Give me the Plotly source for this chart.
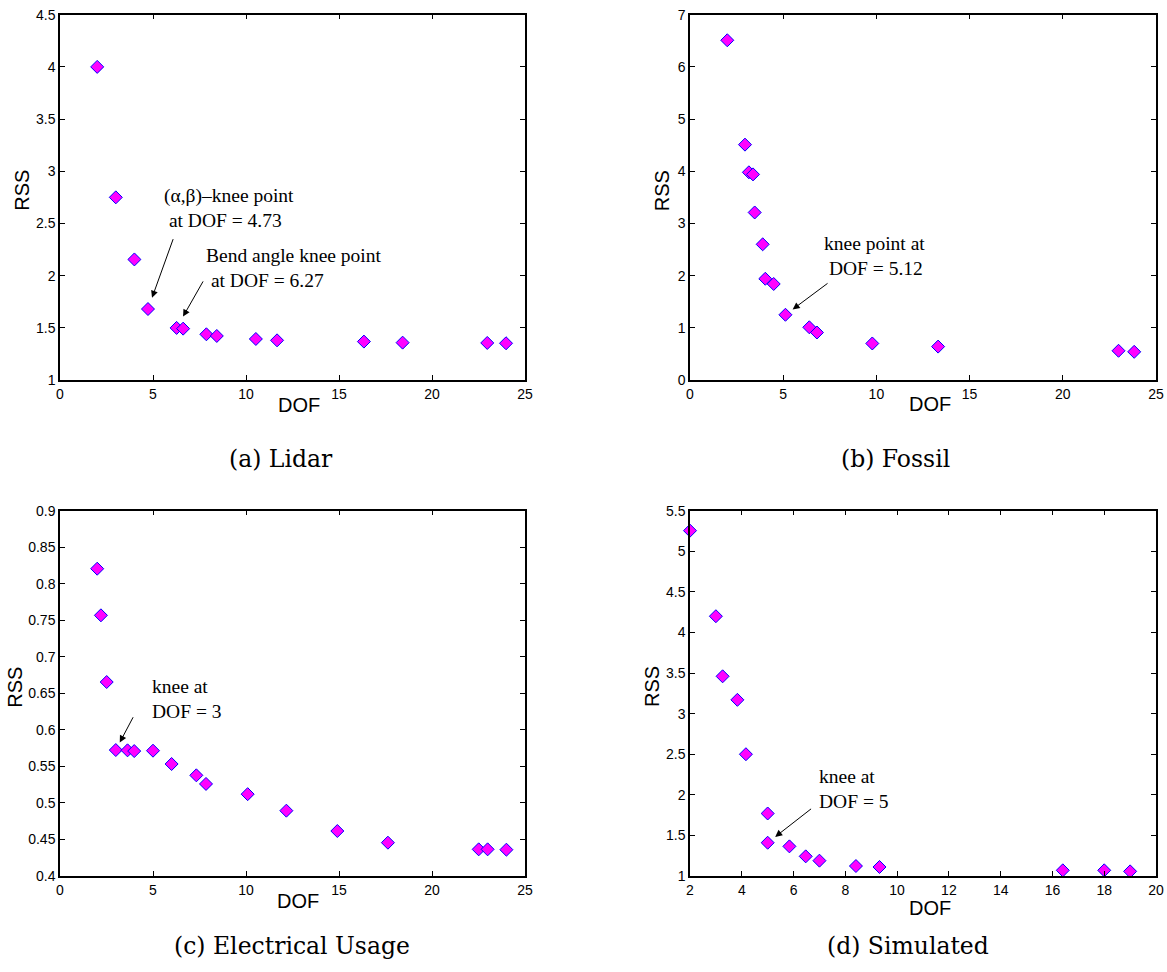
import plotly.graph_objects as go

# ---- data -------------------------------------------------------------
lidar_dof = [2, 3, 4, 4.73, 6.27, 6.62, 7.87, 8.43, 10.53, 11.67, 16.34, 18.42, 22.97, 23.98]
lidar_rss = [4.00, 2.75, 2.155, 1.68, 1.499, 1.492, 1.438, 1.422, 1.393, 1.380, 1.368, 1.358, 1.355, 1.352]

fossil_dof = [2, 2.95, 3.16, 3.38, 3.47, 3.90, 4.04, 4.49, 5.12, 6.40, 6.81, 9.78, 13.31, 22.99, 23.83]
fossil_rss = [6.51, 4.51, 3.98, 3.94, 3.21, 2.60, 1.94, 1.84, 1.25, 1.01, 0.91, 0.70, 0.64, 0.56, 0.54]

elec_dof = [2, 2.20, 2.51, 3, 3.63, 3.99, 5.0, 6.0, 7.33, 7.85, 10.09, 12.17, 14.91, 17.63, 22.51, 22.99, 24.0]
elec_rss = [0.8206, 0.7568, 0.6655, 0.5724, 0.572, 0.571, 0.5715, 0.5533, 0.5378, 0.526,
            0.512, 0.4894, 0.4616, 0.4456, 0.4365, 0.4365, 0.436]

sim_dof = [2, 3, 3.26, 3.83, 4.16, 5, 5, 5.84, 6.47, 7.0, 8.41, 9.32, 16.40, 18.0, 19.0]
sim_rss = [5.254, 4.20, 3.46, 3.17, 2.50, 1.77, 1.41, 1.365, 1.242, 1.189, 1.123, 1.111, 1.07, 1.07, 1.057]

# axis ticks
lidar_x_ticks = [0, 5, 10, 15, 20, 25]
lidar_y_ticks = [1, 1.5, 2, 2.5, 3, 3.5, 4, 4.5]
lidar_y_labels = ["1", "1.5", "2", "2.5", "3", "3.5", "4", "4.5"]
fossil_x_ticks = [0, 5, 10, 15, 20, 25]
fossil_y_ticks = [0, 1, 2, 3, 4, 5, 6, 7]
elec_x_ticks = [0, 5, 10, 15, 20, 25]
elec_y_ticks = [0.4, 0.45, 0.5, 0.55, 0.6, 0.65, 0.7, 0.75, 0.8, 0.85, 0.9]
elec_y_labels = ["0.4", "0.45", "0.5", "0.55", "0.6", "0.65", "0.7", "0.75", "0.8", "0.85", "0.9"]
sim_x_ticks = [2, 4, 6, 8, 10, 12, 14, 16, 18, 20]
sim_y_ticks = [1, 1.5, 2, 2.5, 3, 3.5, 4, 4.5, 5, 5.5]
sim_y_labels = ["1", "1.5", "2", "2.5", "3", "3.5", "4", "4.5", "5", "5.5"]

x_title = "DOF"
y_title = "RSS"
captions = ["(a) Lidar", "(b) Fossil", "(c) Electrical Usage", "(d) Simulated"]

# ---- figure -----------------------------------------------------------
W, H = 1167, 972
fig = go.Figure()

marker = dict(symbol="diamond", size=10, color="#ff00ff",
              line=dict(color="#0000ff", width=1))

panels = [
    ("x", "y", lidar_dof, lidar_rss),
    ("x2", "y2", fossil_dof, fossil_rss),
    ("x3", "y3", elec_dof, elec_rss),
    ("x4", "y4", sim_dof, sim_rss),
]
for xa, ya, xs, ys in panels:
    fig.add_trace(go.Scatter(x=xs, y=ys, mode="markers", marker=marker,
                             xaxis=xa, yaxis=ya, showlegend=False,
                             cliponaxis=False))

sans = "Liberation Sans, Arial, sans-serif"
tick_font = dict(family=sans, size=14, color="black")
title_font = dict(family=sans, size=20, color="black")


def xaxis(domain, rng, ticks, anchor):
    return dict(domain=domain, range=rng, tickvals=ticks,
                ticktext=[str(t) for t in ticks], anchor=anchor, automargin=False,
                showline=True, mirror="ticks", linecolor="black", linewidth=1.5,
                ticks="inside", ticklen=5, tickwidth=1, tickcolor="black",
                showgrid=False, zeroline=False, tickfont=tick_font)


def yaxis(domain, rng, ticks, labels, anchor):
    return dict(domain=domain, range=rng, tickvals=ticks, ticktext=labels,
                anchor=anchor, automargin=False,
                showline=True, mirror="ticks", linecolor="black", linewidth=1.5,
                ticks="inside", ticklen=5, tickwidth=1, tickcolor="black",
                showgrid=False, zeroline=False, tickfont=tick_font)


left_dom = [60 / W, 525 / W]
right_dom = [690 / W, 1156 / W]
top_dom = [1 - 380 / H, 1 - 14.7 / H]
bot_dom = [1 - 876 / H, 1 - 510.7 / H]

fig.update_layout(
    width=W, height=H, autosize=False,
    margin=dict(l=0, r=0, t=0, b=0, autoexpand=False),
    paper_bgcolor="white", plot_bgcolor="white",
    xaxis=xaxis(left_dom, [0, 25], lidar_x_ticks, "y"),
    yaxis=yaxis(top_dom, [1, 4.5], lidar_y_ticks, lidar_y_labels, "x"),
    xaxis2=xaxis(right_dom, [0, 25], fossil_x_ticks, "y2"),
    yaxis2=yaxis(top_dom, [0, 7], fossil_y_ticks, [str(t) for t in fossil_y_ticks], "x2"),
    xaxis3=xaxis(left_dom, [0, 25], elec_x_ticks, "y3"),
    yaxis3=yaxis(bot_dom, [0.4, 0.9], elec_y_ticks, elec_y_labels, "x3"),
    xaxis4=xaxis(right_dom, [2, 20], sim_x_ticks, "y4"),
    yaxis4=yaxis(bot_dom, [1, 5.5], sim_y_ticks, sim_y_labels, "x4"),
)

# axis titles (pixel positions of their centres)
x_title_pos = [(299, 405), (930, 404), (298, 901), (930, 908)]
y_title_pos = [(21.7, 190), (662.7, 190.5), (14.7, 687), (652, 687)]
for (cx, cy) in x_title_pos:
    fig.add_annotation(xref="paper", yref="paper", x=cx / W, y=1 - cy / H,
                       text=x_title, showarrow=False, xanchor="center",
                       yanchor="middle", font=title_font)
for (cx, cy) in y_title_pos:
    fig.add_annotation(xref="paper", yref="paper", x=cx / W, y=1 - cy / H,
                       text=y_title, showarrow=False, xanchor="center",
                       yanchor="middle", textangle=-90, font=title_font)

note_font = dict(family="Liberation Serif, Times New Roman, serif", size=19.5, color="black")
NB = "\u00a0"

# text labels for the knee points
notes = [
    ("x", "y", 5.46, 2.646, "(\u03b1,\u03b2)\u2013knee point<br>" + NB + "at DOF = 4.73"),
    ("x", "y", 7.74, 2.074, "Bend angle knee point<br>" + NB + "at DOF = 6.27"),
    ("x2", "y2", 7.10, 2.38, "knee point at<br>" + NB + "DOF = 5.12"),
    ("x3", "y3", 4.82, 0.642, "knee at<br>DOF = 3"),
    ("x4", "y4", 6.89, 2.073, "knee at<br>DOF = 5"),
]
for xr, yr, x, y, t in notes:
    fig.add_annotation(xref=xr, yref=yr, x=x, y=y, text=t, showarrow=False,
                       xanchor="left", yanchor="middle", align="left", font=note_font)

# arrows pointing at the knee points
arrows = [
    ("x", "y", lidar_dof[3], lidar_rss[3], 25.7, -71.4, 12),
    ("x", "y", lidar_dof[4], lidar_rss[4], 27.3, -48, 13),
    ("x2", "y2", fossil_dof[8], fossil_rss[8], 43.6, -32.5, 9),
    ("x3", "y3", elec_dof[3], elec_rss[3], 18.1, -34.3, 8.5),
    ("x4", "y4", sim_dof[6], sim_rss[6], 44.9, -35, 9.5),
]
for xr, yr, x, y, ax, ay, so in arrows:
    fig.add_annotation(xref=xr, yref=yr, x=x, y=y, ax=ax, ay=ay, text="",
                       showarrow=True, arrowhead=2, arrowsize=1.4, arrowwidth=1,
                       arrowcolor="black", standoff=so)

# sub-figure captions
cap_font = dict(family="DejaVu Serif, serif", size=23.5, color="black")
cap_pos = [(281, 459), (895, 459), (292, 946), (908, 946)]
for text, (cx, cy) in zip(captions, cap_pos):
    fig.add_annotation(xref="paper", yref="paper", x=cx / W, y=1 - cy / H,
                       text=text, showarrow=False, xanchor="center", yanchor="middle",
                       font=cap_font)

fig.write_html("out.html")
